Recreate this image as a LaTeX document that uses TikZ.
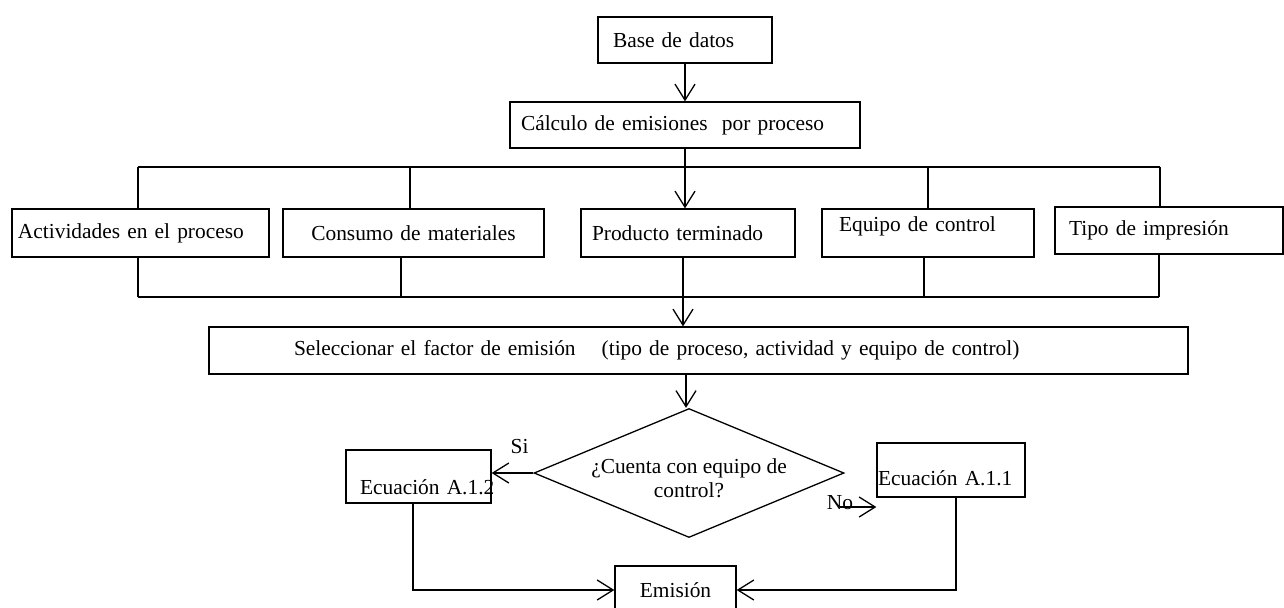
\documentclass[tikz,border=0pt]{standalone}
\usepackage{fontspec}
\setmainfont{Liberation Serif}
\usepackage{tikz}
\usetikzlibrary{arrows.meta,positioning,shapes.geometric}
\tikzset{
  figure/.style={x=0.5pt,y=-0.5pt,line width=0.65pt,font=\fontsize{10.7}{12}\selectfont,
    >={Straight Barb[length=8pt,width=10pt]}},
  box/.style={draw,rectangle,inner ysep=0pt,align=left},
  decision/.style={draw,diamond,inner sep=0pt,aspect=2.39,
    minimum width=155pt,minimum height=64.5pt},
  flow/.style={->},
}

\begin{document}
\begin{tikzpicture}[figure]
  \useasboundingbox (0,0) rectangle (1284,607);

  % cabecera
  \node[box,text width=72pt,inner xsep=7.5pt,minimum height=23pt] (base) at (685,40) {Base de datos};
  \node[box,text width=164pt,inner xsep=5.5pt,minimum height=23pt] (calc) at (685,125)
    {Cálculo de emisiones\ \ por proceso};

  % fila de procesos
  \node[box,text width=122.5pt,inner xsep=3pt,minimum height=24pt] (act) at (140.5,233)
    {Actividades en el proceso};
  \node[box,align=center,text width=120.5pt,inner xsep=5pt,minimum height=24pt] (cons) at (413.5,233)
    {Consumo de materiales};
  \node[box,text width=96pt,inner xsep=5.5pt,minimum height=24pt] (prod) at (688,233)
    {Producto terminado};
  \node[box,text width=89pt,inner xsep=8.5pt,minimum height=24pt,text height=7.5pt,text depth=9.5pt]
    (equ) at (928,233) {Equipo de control};
  \node[box,text width=100pt,inner xsep=7pt,minimum height=23.5pt] (tipo) at (1169,230.5)
    {Tipo de impresión};

  \node[box,text width=404.5pt,inner xsep=42.5pt,minimum height=23.5pt] (sel) at (698.5,350.5)
    {Seleccionar el factor de emisión\hspace{13pt}(tipo de proceso, actividad y equipo de control)};

  % decision
  \node[decision,label={[name=pregunta,align=center,yshift=-2.5pt]center:¿Cuenta con equipo de\\control?}]
    (dia) at (689,473) {};
  \node[box,text width=58.5pt,inner xsep=7pt,minimum height=26.5pt,text height=20pt,text depth=2.5pt]
    (eq2) at (418.5,476.5) {\mbox{Ecuación A.1.2}};
  \node[box,text width=73pt,inner xsep=0.5pt,minimum height=27pt,text height=17.5pt,text depth=2.5pt]
    (eq1) at (951,470) {\mbox{Ecuación A.1.1}};
  \node[box,align=center,text width=50.5pt,inner xsep=5pt,minimum height=24pt] (emis) at (675.5,590)
    {Emisión};
  \node (no) at (840,503) {No};

  % buses
  \coordinate (topL) at (138,167);
  \coordinate (topR) at (1160,167);
  \coordinate (botL) at (138,297);
  \coordinate (botR) at (1159,297);

  \draw[flow] (base) -- (calc);
  \draw[flow] (calc.south) -- (calc.south |- prod.north);
  \draw (topL) -- (topR);
  \draw (topL) -- (topL |- act.north);
  \draw (topR) -- (topR |- tipo.north);
  \draw ([xshift=-1.75pt]cons.north) -- ([xshift=-1.75pt]cons.north |- topL);
  \draw (equ.north) -- (equ.north |- topL);

  \draw (botL) -- (botR);
  \draw (botL) -- (botL |- act.south);
  \draw (botR) -- (botR |- tipo.south);
  \draw ([xshift=-6.25pt]cons.south) -- ([xshift=-6.25pt]cons.south |- botL);
  \draw ([xshift=-2pt]equ.south) -- ([xshift=-2pt]equ.south |- botL);
  \draw[flow] ([xshift=-2.5pt]prod.south) -- ([xshift=-2.5pt]prod.south |- sel.north);

  \draw[flow] ([xshift=-1.5pt]sel.south -| dia.north) -- ([xshift=-1.5pt]dia.north);
  \draw[flow] (dia.west) -- node[pos=0.33,yshift=13pt] (si) {Si} (dia.west -| eq2.east);
  \draw[flow] ([yshift=-2pt]no.center) -- ([yshift=-2pt]no.center -| eq1.west);
  \draw[flow] ([xshift=-2.75pt]eq2.south) |- (emis.west);
  \draw[flow] ([xshift=2.5pt]eq1.south) |- (emis.east);
\end{tikzpicture}
\end{document}
